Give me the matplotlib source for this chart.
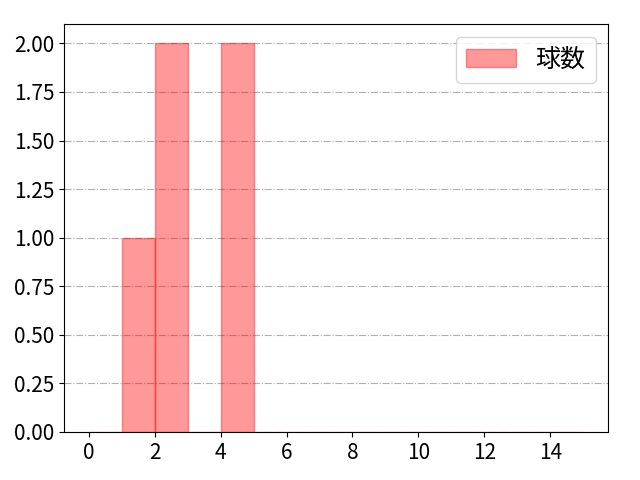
import numpy as np
import matplotlib
matplotlib.use('Agg')
from matplotlib import pyplot as plt

plt.rcParams['font.family'] = ['Noto Sans CJK JP', 'DejaVu Sans']
plt.rcParams['font.size'] = 15

# Histogram values (pitch counts per bin)
bin_edges = list(range(0, 16))
bin_left = [1, 2, 4]
counts = [1, 2, 2]
label = '球数'

fig, ax = plt.subplots(figsize=(6.4, 4.8), dpi=100)
ax.hist(bin_left, bins=bin_edges, weights=counts, color='red', alpha=0.4,
        edgecolor='red', linewidth=1, label=label)
ax.set_xticks(np.arange(0, 15, 2))
yticks = np.arange(0, 2.01, 0.25)
ax.set_yticks(yticks)
ax.set_yticklabels([f'{v:.2f}' for v in yticks])
ax.set_ylim(0, 2.1)
ax.grid(axis='y', linestyle='-.', color='#b0b0b0')
ax.set_axisbelow(True)
ax.legend(loc='upper right', fontsize=18)
fig.subplots_adjust(left=0.1, right=0.95, top=0.95, bottom=0.1)
fig.savefig('out.png')
